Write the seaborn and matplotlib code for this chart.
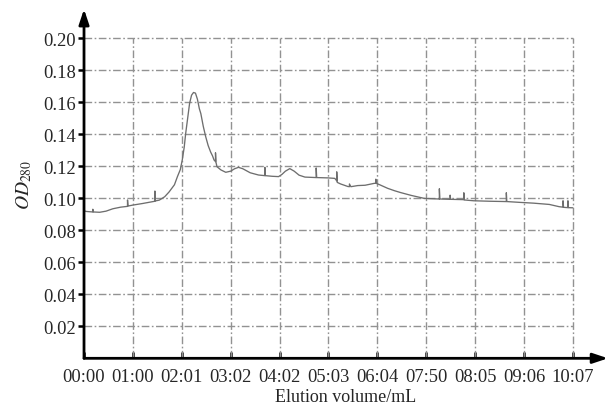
import numpy as np
import matplotlib
matplotlib.use("Agg")
import matplotlib.pyplot as plt
import seaborn as sns

# elution trace, x in tick units (0 = 00:00 ... 10 = 10:07)
elution_x = [0.00, 0.05, 0.18, 0.18, 0.19, 0.32, 0.45, 0.59, 0.75, 0.89, 0.89, 0.90,
             1.00, 1.20, 1.45, 1.45, 1.46, 1.54, 1.65, 1.74, 1.85, 1.91, 1.97, 2.01,
             2.05, 2.08, 2.12, 2.16, 2.20, 2.24, 2.28, 2.32, 2.36, 2.39, 2.44, 2.49,
             2.54, 2.59, 2.63, 2.66, 2.69, 2.69, 2.70, 2.72, 2.80, 2.90, 3.00, 3.08,
             3.16, 3.25, 3.40, 3.57, 3.70, 3.70, 3.71, 3.85, 3.98, 4.05, 4.12, 4.21,
             4.30, 4.40, 4.52, 4.75, 4.75, 4.76, 4.99, 5.13, 5.17, 5.17, 5.18, 5.25,
             5.40, 5.43, 5.43, 5.46, 5.60, 5.75, 5.94, 5.97, 5.97, 5.98, 6.05, 6.21,
             6.35, 6.48, 6.70, 6.96, 7.10, 7.27, 7.27, 7.28, 7.40, 7.49, 7.49, 7.50,
             7.77, 7.77, 7.78, 7.97, 8.30, 8.64, 8.64, 8.65, 8.91, 9.20, 9.52, 9.72,
             9.80, 9.80, 9.81, 9.90, 9.90, 9.91, 10.00]
od280 = [0.0922, 0.0918, 0.0915, 0.0932, 0.0915, 0.0913, 0.0920, 0.0935, 0.0945, 0.0950, 0.0990, 0.0952,
         0.0958, 0.0968, 0.0982, 0.1046, 0.0984, 0.0989, 0.1010, 0.1040, 0.1085, 0.1135, 0.1180, 0.1240,
         0.1320, 0.1406, 0.1500, 0.1594, 0.1645, 0.1662, 0.1658, 0.1620, 0.1560, 0.1530, 0.1450, 0.1385,
         0.1330, 0.1290, 0.1265, 0.1240, 0.1230, 0.1285, 0.1225, 0.1198, 0.1178, 0.1163, 0.1170, 0.1185,
         0.1194, 0.1185, 0.1160, 0.1146, 0.1142, 0.1194, 0.1142, 0.1138, 0.1136, 0.1150, 0.1170, 0.1186,
         0.1170, 0.1145, 0.1133, 0.1130, 0.1190, 0.1130, 0.1128, 0.1125, 0.1110, 0.1166, 0.1100, 0.1090,
         0.1074, 0.1073, 0.1090, 0.1073, 0.1080, 0.1082, 0.1094, 0.1094, 0.1120, 0.1094, 0.1085, 0.1063,
         0.1048, 0.1036, 0.1018, 0.1000, 0.0998, 0.0996, 0.1060, 0.0996, 0.0995, 0.0994, 0.1020, 0.0994,
         0.0992, 0.1035, 0.0990, 0.0985, 0.0982, 0.0980, 0.1035, 0.0980, 0.0975, 0.0970, 0.0962, 0.0948,
         0.0945, 0.0985, 0.0944, 0.0942, 0.0985, 0.0942, 0.0941]

x_ticks = list(range(11))
x_labels = ["00:00", "01:00", "02:01", "03:02", "04:02", "05:03",
            "06:04", "07:50", "08:05", "09:06", "10:07"]
y_ticks = [0.02, 0.04, 0.06, 0.08, 0.10, 0.12, 0.14, 0.16, 0.18, 0.20]

sns.set_style("white")
plt.rcParams['font.family'] = ['Liberation Serif', 'DejaVu Serif']
plt.rcParams['mathtext.fontset'] = 'stix'

fig = plt.figure(figsize=(6.11, 4.06), dpi=100)
ax = fig.add_axes([0.1375, 0.115, 0.8576, 0.860])

# dash-dot grid limited to the labelled area
grid_style = dict(colors='#929292', linewidth=1.0, linestyles=[(0, (5.5, 1.8, 1.2, 1.8))], zorder=1)
ax.hlines(y_ticks, 0, x_ticks[-1], **grid_style)
ax.vlines(x_ticks[1:], 0, y_ticks[-1], **grid_style)

sns.lineplot(x=elution_x, y=od280, ax=ax, estimator=None, sort=False,
             color='#6e6e6e', linewidth=0.95, zorder=3)

ax.set_xlim(0, 10.72)
ax.set_ylim(0, 0.2183)
ax.set_xticks(x_ticks)
ax.set_xticklabels(x_labels)
ax.set_yticks(y_ticks)
ax.set_yticklabels([f"{v:.2f}" for v in y_ticks])
ax.tick_params(axis='y', direction='out', length=4, width=1.8, color='black',
               labelsize=13.3, pad=2, left=True)
ax.tick_params(axis='x', direction='in', length=4, width=1.8, color='black',
               labelsize=13.3, pad=7, bottom=True)

for s in ax.spines.values():
    s.set_visible(False)

arrow = dict(arrowstyle='-|>,head_length=0.9,head_width=0.3', lw=2, color='black',
             shrinkA=0, shrinkB=0, mutation_scale=10)
ax.annotate('', xy=(1, 0), xytext=(0, 0), xycoords='axes fraction',
            textcoords='axes fraction', arrowprops=arrow, annotation_clip=False)
ax.annotate('', xy=(0, 1), xytext=(0, 0), xycoords='axes fraction',
            textcoords='axes fraction', arrowprops=arrow, annotation_clip=False)

ax.set_xlabel("Elution volume/mL", fontsize=13, labelpad=2)
ax.set_ylabel(r"$OD_{\mathrm{280}}$", fontsize=14, labelpad=6)

fig.savefig("out.png", dpi=100)
